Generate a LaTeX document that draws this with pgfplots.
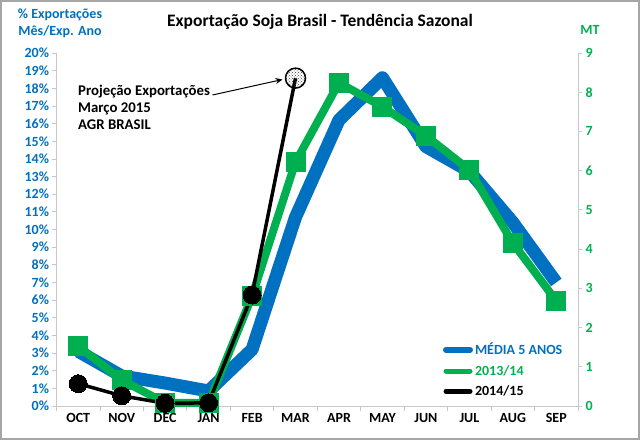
\documentclass[border=0pt]{standalone}
\usepackage{fontspec}
\setmainfont{Carlito}
\usepackage{pgfplots}
\pgfplotsset{compat=1.18}
\usetikzlibrary{patterns,arrows.meta}
\definecolor{xlblue}{RGB}{0,112,192}
\definecolor{xlgreen}{RGB}{0,176,80}
\definecolor{axgray}{RGB}{200,200,200}
\newcommand{\lbl}{\bfseries\fontsize{14}{16}\selectfont}

\begin{document}
\begin{tikzpicture}[x=1pt,y=1pt]
\useasboundingbox (-56.5,-34) rectangle (583.5,406);
\draw[gray!70, line width=1.5pt] (-55.7,-33.2) rectangle (582.7,405.2);

% left axis: share of yearly exports
\begin{axis}[
    at={(0,0)}, anchor=south west,
    scale only axis, width=521.5pt, height=353pt,
    xmin=-0.5, xmax=11.5, ymin=0, ymax=20,
    axis x line*=bottom, axis y line*=left,
    axis line style={axgray, line width=1pt, -},
    tick align=outside, tick style={axgray, line width=0.8pt},
    major tick length=4pt, minor tick length=5pt,
    xtick={0,...,11},
    xticklabels={OCT,NOV,DEC,JAN,FEB,MAR,APR,MAY,JUN,JUL,AUG,SEP},
    major x tick style={draw=none},
    minor xtick={-0.5,0.5,1.5,2.5,3.5,4.5,5.5,6.5,7.5,8.5,9.5,10.5,11.5},
    ytick={0,...,20},
    yticklabel={\pgfmathprintnumber{\tick}\%},
    /pgf/number format/assume math mode=true,
    yticklabel style={xlblue, font=\lbl},
    xticklabel style={black, font=\lbl},
    clip=false,
]
\addplot[xlblue, line width=13pt, line join=round] coordinates {
    (0,3.1) (1,1.7) (2,1.3) (3,0.85) (4,3.2) (5,10.7)
    (6,16.2) (7,18.6) (8,14.7) (9,13.3) (10,10.4) (11,7.0)};
\end{axis}

% right axis: million tonnes
\begin{axis}[
    at={(0,0)}, anchor=south west,
    scale only axis, width=521.5pt, height=353pt,
    xmin=-0.5, xmax=11.5, ymin=0, ymax=9,
    axis x line=none, axis y line*=right,
    axis line style={axgray, line width=1pt, -},
    tick align=outside, tick style={axgray, line width=0.8pt},
    major tick length=4pt,
    xtick=\empty, ytick={0,...,9},
    /pgf/number format/assume math mode=true,
    yticklabel style={xlgreen, font=\lbl},
    clip=false,
    legend style={at={(0.735,0.19)}, anchor=north west, draw=none, fill=none,
        font=\lbl, row sep=5pt, cells={anchor=west}},
    legend image code/.code={\draw[#1] (0pt,0pt) -- (24pt,0pt);},
]
\addlegendimage{xlblue, line width=6pt, line cap=round}
\addlegendentry{\textcolor{xlblue}{MÉDIA 5 ANOS}}

\addplot[xlgreen, line width=8pt, mark=square*, mark size=9.5pt,
    mark options={line width=0pt, draw=xlgreen, fill=xlgreen},
    legend image post style={line width=5pt, line cap=round}] coordinates {
    (0,1.53) (1,0.66) (2,0.08) (3,0.08) (4,2.80) (5,6.22)
    (6,8.24) (7,7.63) (8,6.89) (9,6.02) (10,4.16) (11,2.68)};
\addlegendentry{\textcolor{xlgreen}{2013/14}}

\addplot[black, line width=3.5pt, mark=*, mark size=9pt, mark indices={1,...,5},
    mark options={line width=0pt, fill=black},
    legend image post style={line width=5pt, line cap=round}] coordinates {
    (0,0.57) (1,0.26) (2,0.07) (3,0.08) (4,2.83) (5,8.36)};
\addlegendentry{2014/15}

\addplot[forget plot, only marks, mark=*, mark size=10pt,
    mark options={draw=black, line width=1.5pt, pattern=crosshatch dots, pattern color=black!75}]
    coordinates {(5,8.36)};
\end{axis}

% titles and note
\node[font=\bfseries\fontsize{17.5}{20}\selectfont] at (263.5,384) {Exportação Soja Brasil - Tendência Sazonal};
\node[xlblue, font=\lbl, align=center] at (3.5,383) {\% Exportações\\[1pt]Mês/Exp. Ano};
\node[xlgreen, font=\lbl] at (533.5,376) {MT};
\node[font=\bfseries\fontsize{14.8}{17}\selectfont, align=left, anchor=north west, inner sep=0pt] at (21.5,321)
    {Projeção Exportações\\Março 2015\\AGR BRASIL};
\draw[-{Stealth[length=7pt,width=6pt]}, line width=1pt] (156,311) -- (226,326.5);
\end{tikzpicture}
\end{document}
